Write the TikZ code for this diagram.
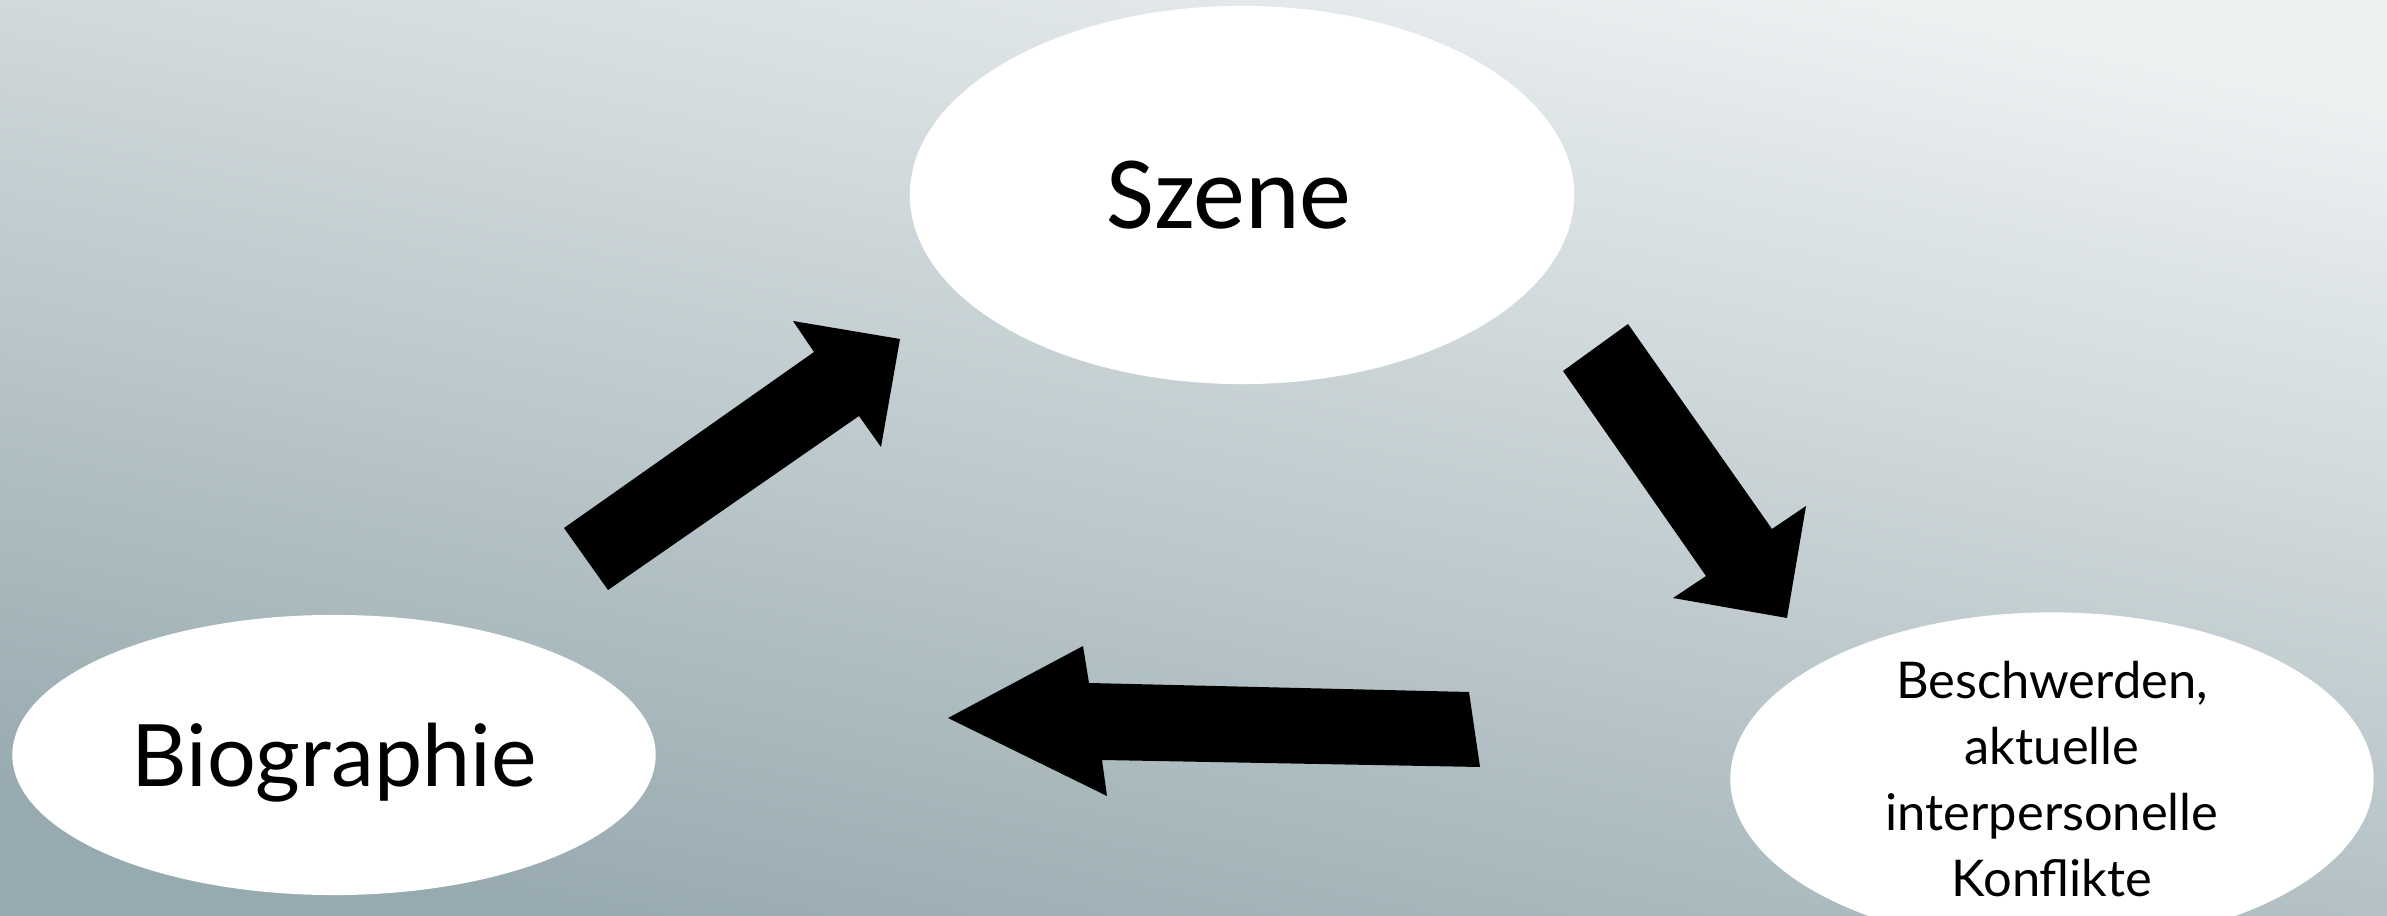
\documentclass[tikz,border=0pt]{standalone}
\usepackage{fontspec}
\setmainfont{Lato}
\newfontfamily\scenefont{Carlito}
\usetikzlibrary{shapes.geometric}
\definecolor{bglight}{HTML}{ECF0F1}
\definecolor{bgdark}{HTML}{97AAB0}
\tikzset{
  bubble/.style={ellipse, fill=white, inner sep=0pt, text depth=0pt, align=center},
  blockarrow/.style={fill=black},
}
\begin{document}
\begin{tikzpicture}[x=0.01cm,y=-0.01cm]
\useasboundingbox (0,0) rectangle (2387,916);
% background
\shade[top color=bglight, bottom color=bgdark, shading angle=-12] (0,0) rectangle (2387,916);

% the three stations of the cycle
\node[bubble, minimum width=6.64cm, minimum height=3.78cm,
      label={[font=\scenefont\fontsize{29.6}{35}\selectfont, xshift=-0.13cm]center:Szene}]
      (szene) at (1242,195) {};
\node[bubble, minimum width=6.43cm, minimum height=2.80cm,
      label={[font=\fontsize{24.5}{29}\selectfont, text depth=0pt]center:Biographie}]
      (bio) at (334,755) {};
\node[bubble, minimum width=6.43cm, minimum height=2.80cm,
      font=\fontsize{14.4}{18.8}\selectfont] (besch) at (2052,779)
      {Beschwerden,\\aktuelle\\interpersonelle\\Konflikte};

% block arrows between the stations
\fill[blockarrow] (564,528) -- (814,352) -- (793,321) -- (900,339)
  -- (881,447) -- (859,416) -- (608,590) -- cycle;
\fill[blockarrow] (1563,371) -- (1628,324) -- (1772,529) -- (1806,506)
  -- (1787,618) -- (1673,598) -- (1706,576) -- cycle;
\fill[blockarrow] (948,718) -- (1083,646) -- (1089,683) -- (1469,692)
  -- (1480,767) -- (1102,760) -- (1107,796) -- cycle;
\end{tikzpicture}
\end{document}
